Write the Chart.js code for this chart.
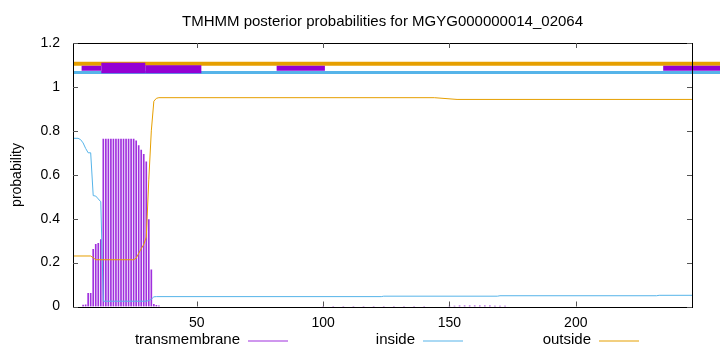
<!DOCTYPE html>
<html>
<head>
<meta charset="utf-8">
<script src="https://cdn.jsdelivr.net/npm/chart.js@4/dist/chart.umd.min.js"></script>
<style>
html,body{margin:0;padding:0;background:#fff;}
#wrap{width:720px;height:352px;position:relative;}
</style>
</head>
<body>
<div id="wrap"><canvas id="c" width="720" height="352"></canvas></div>
<script>
// ---- data ----
const chartTitle = 'TMHMM posterior probabilities for MGYG000000014_02064';
const yAxisTitle = 'probability';
const legendLabels = ['transmembrane', 'inside', 'outside'];
const xTicks = [50, 100, 150, 200];
const yTicks = [0, 0.2, 0.4, 0.6, 0.8, 1, 1.2];
const seqLength = 246;

// transmembrane posterior (impulses), residue positions and values
const tmX = [5, 6, 7, 8, 9, 10, 11, 12, 13, 14, 15, 16, 17, 18, 19, 20, 21, 22, 23, 24, 25,
  26, 27, 28, 29, 30, 31, 32, 33, 34, 35,
  100, 104, 108, 112, 116, 120, 124, 128, 132, 136, 140,
  150, 152, 154, 156, 158, 160, 162, 164, 166, 168, 170, 172];
const tmY = [0.006, 0.008, 0.06, 0.06, 0.26, 0.283, 0.288, 0.305, 0.762, 0.762, 0.762, 0.762, 0.762, 0.762, 0.762, 0.762, 0.762, 0.762, 0.762, 0.762, 0.762,
  0.755, 0.733, 0.712, 0.693, 0.659, 0.396, 0.167, 0.01, 0.005, 0.003,
  0.001, 0.001, 0.001, 0.001, 0.001, 0.001, 0.001, 0.001, 0.001, 0.001, 0.001,
  0.002, 0.002, 0.003, 0.003, 0.003, 0.003, 0.003, 0.003, 0.003, 0.002, 0.002, 0.002];

// inside posterior (line), breakpoints
const insideX = [1, 3, 4, 5, 6, 7, 8, 9, 10, 11, 12, 13, 30, 31, 32, 33, 34, 123, 124, 169, 170, 232, 233, 246];
const insideY = [0.766, 0.766, 0.76, 0.745, 0.72, 0.70, 0.70, 0.505, 0.503, 0.49, 0.477, 0.024, 0.024, 0.027, 0.033, 0.044, 0.045, 0.045, 0.047, 0.047, 0.049, 0.049, 0.051, 0.051];

// outside posterior (line), breakpoints
const outsideX = [1, 8, 9, 10, 25, 26, 27, 28, 29, 30, 31, 32, 33, 34, 35, 144, 153, 246];
const outsideY = [0.23, 0.23, 0.222, 0.213, 0.213, 0.22, 0.242, 0.263, 0.282, 0.316, 0.577, 0.80, 0.935, 0.948, 0.951, 0.951, 0.943, 0.943];

// predicted topology bands at the top
const bandEnd = 258;
const outsideBandY = 1.106;
const insideBandY = 1.066;
const helixThinX = [4.4, 12.2, null, 81.6, 100.7, null, 234.6, 258];
const helixThinY = [1.085, 1.085, null, 1.085, 1.085, null, 1.085, 1.085];
const helixWideX = [12.2, 29.6];
const helixWideY = [1.086, 1.086];
const helixMidX = [29.6, 51.8];
const helixMidY = [1.080, 1.080];

// ---- helpers ----
const pts = (xs, ys) => xs.map((x, i) => (x === null ? {x: NaN, y: null} : {x: x, y: ys[i]}));

const PURPLE = '#9400d3';
const IMPULSE = 'rgb(160,48,222)';
const BLUE = '#56b4e9';
const ORANGE = '#e69f00';
const FONT = '"Liberation Sans", Arial, sans-serif';

const decor = {
  id: 'decor',
  afterDraw(chart) {
    const ctx = chart.ctx;
    const a = chart.chartArea;
    const xs = chart.scales.x, ys = chart.scales.y;
    ctx.save();
    // frame
    ctx.strokeStyle = '#000';
    ctx.lineWidth = 1;
    ctx.strokeRect(Math.round(a.left) + 0.5, Math.round(a.top) + 0.5, Math.round(a.right - a.left), Math.round(a.bottom - a.top));
    // inward ticks (mirrored)
    ctx.strokeStyle = '#555';
    ctx.beginPath();
    xTicks.forEach(v => {
      const px = Math.round(xs.getPixelForValue(v)) + 0.5;
      ctx.moveTo(px, a.bottom); ctx.lineTo(px, a.bottom - 5);
      ctx.moveTo(px, a.top); ctx.lineTo(px, a.top + 5);
    });
    yTicks.forEach(v => {
      const py = Math.round(ys.getPixelForValue(v)) + 0.5;
      ctx.moveTo(a.left, py); ctx.lineTo(a.left + 5, py);
      ctx.moveTo(a.right, py); ctx.lineTo(a.right - 5, py);
    });
    ctx.stroke();
    // title
    ctx.fillStyle = '#000';
    ctx.font = '15px ' + FONT;
    ctx.textAlign = 'center';
    ctx.textBaseline = 'middle';
    ctx.fillText(chartTitle, (a.left + a.right) / 2, 22);
    // y title
    ctx.save();
    ctx.translate(17, 175);
    ctx.rotate(-Math.PI / 2);
    ctx.font = '14px ' + FONT;
    ctx.fillText(yAxisTitle, 0, 0);
    ctx.restore();
    // legend
    const colors = [IMPULSE, BLUE, ORANGE];
    const textRight = [240, 415, 591];
    ctx.font = '15px ' + FONT;
    ctx.textAlign = 'right';
    legendLabels.forEach((lab, i) => {
      ctx.fillStyle = '#000';
      ctx.fillText(lab, textRight[i], 340);
      ctx.strokeStyle = colors[i];
      ctx.lineWidth = 1.2;
      ctx.beginPath();
      ctx.moveTo(textRight[i] + 8, 341);
      ctx.lineTo(textRight[i] + 48, 341);
      ctx.stroke();
    });
    ctx.restore();
  }
};

const fmt = v => String(Number(Number(v).toFixed(1)));

new Chart(document.getElementById('c'), {
  type: 'line',
  data: {
    datasets: [
      {type: 'line', label: 'helix mid', data: pts(helixMidX, helixMidY), borderColor: PURPLE, borderWidth: 8, pointRadius: 0, clip: false, order: 1, borderCapStyle: 'butt'},
      {type: 'line', label: 'helix wide', data: pts(helixWideX, helixWideY), borderColor: PURPLE, borderWidth: 10.6, pointRadius: 0, clip: false, order: 1, borderCapStyle: 'butt'},
      {type: 'line', label: 'helix thin', data: pts(helixThinX, helixThinY), borderColor: PURPLE, borderWidth: 5, pointRadius: 0, clip: false, spanGaps: false, order: 1, borderCapStyle: 'butt'},
      {type: 'line', label: 'outside band', data: [{x: 1, y: outsideBandY}, {x: bandEnd, y: outsideBandY}], borderColor: ORANGE, borderWidth: 4, pointRadius: 0, clip: false, order: 2, borderCapStyle: 'butt'},
      {type: 'line', label: 'inside band', data: [{x: 1, y: insideBandY}, {x: bandEnd, y: insideBandY}], borderColor: BLUE, borderWidth: 3, pointRadius: 0, clip: false, order: 2, borderCapStyle: 'butt'},
      {type: 'line', label: legendLabels[2], data: pts(outsideX, outsideY), borderColor: ORANGE, borderWidth: 1, pointRadius: 0, tension: 0, order: 3},
      {type: 'line', label: legendLabels[1], data: pts(insideX, insideY), borderColor: BLUE, borderWidth: 1, pointRadius: 0, tension: 0, order: 4},
      {type: 'bar', label: legendLabels[0], data: pts(tmX, tmY), backgroundColor: IMPULSE, borderWidth: 0, barThickness: 1, grouped: false, order: 5}
    ]
  },
  options: {
    responsive: false,
    animation: false,
    events: [],
    layout: {padding: {left: 0, right: 28, top: 43, bottom: 0}},
    plugins: {legend: {display: false}, tooltip: {enabled: false}, title: {display: false}},
    scales: {
      x: {
        type: 'linear', min: 1, max: seqLength, offset: false,
        afterBuildTicks: s => { s.ticks = xTicks.map(v => ({value: v})); },
        afterFit: s => { s.height = 45.5; },
        grid: {display: false, drawTicks: false},
        border: {display: false},
        ticks: {color: '#000', font: {family: FONT, size: 14}, padding: 8, maxRotation: 0, callback: fmt}
      },
      y: {
        type: 'linear', min: 0, max: 1.2,
        afterBuildTicks: s => { s.ticks = yTicks.map(v => ({value: v})); },
        afterFit: s => { s.width = 73; },
        grid: {display: false, drawTicks: false},
        border: {display: false},
        ticks: {color: '#000', font: {family: FONT, size: 14}, padding: 13, callback: fmt}
      }
    }
  },
  plugins: [decor]
});
</script>
</body>
</html>
